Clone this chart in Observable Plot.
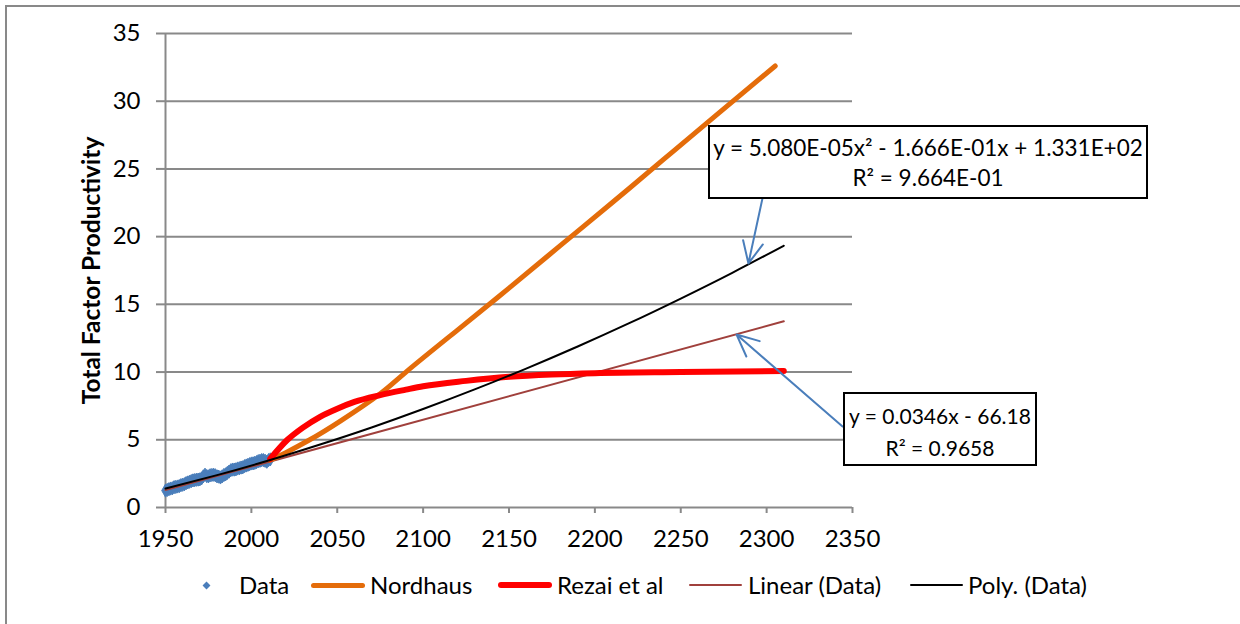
<!DOCTYPE html>
<html><head><meta charset="utf-8">
<script src="https://cdn.jsdelivr.net/npm/d3@7"></script>
<script src="https://cdn.jsdelivr.net/npm/@observablehq/plot@0.6"></script>
<style>
body{margin:0;background:#fff;font-family:Lato,sans-serif;}
#wrap{position:relative;width:1240px;height:624px;overflow:hidden;background:#fff;}
#frame{position:absolute;left:5px;top:5px;width:1300px;height:700px;border-left:2px solid #898989;border-top:2px solid #898989;}
#chart{position:absolute;left:0;top:0;}
.box{position:absolute;background:#fff;border:2px solid #000;text-align:center;font-size:22.5px;line-height:27px;box-sizing:border-box;color:#000;}
.box div{position:absolute;left:0;right:0;white-space:nowrap;}
.lt{position:absolute;font-size:24px;top:571px;line-height:28px;color:#000;white-space:nowrap;}
.sw{position:absolute;}
</style></head>
<body>
<div id="wrap">
  <div id="frame"></div>
  <div id="chart"></div>
  <div id="legend"></div>
  <div class="box" id="box1" style="left:708px;top:125px;width:440px;height:74px;">
    <div style="top:7px">y = 5.080E-05x² - 1.666E-01x + 1.331E+02</div>
    <div style="top:37px">R² = 9.664E-01</div>
  </div>
  <div class="box" id="box2" style="left:843px;top:392px;width:194px;height:74px;font-size:21px;">
    <div style="top:8px">y = 0.0346x - 66.18</div>
    <div style="top:40px">R² = 0.9658</div>
  </div>
</div>
<script>
// ---- data ----
const dataYears = [1950,1951,1952,1953,1954,1955,1956,1957,1958,1959,1960,1961,1962,1963,1964,1965,1966,1967,1968,1969,1970,1971,1972,1973,1974,1975,1976,1977,1978,1979,1980,1981,1982,1983,1984,1985,1986,1987,1988,1989,1990,1991,1992,1993,1994,1995,1996,1997,1998,1999,2000,2001,2002,2003,2004,2005,2006,2007,2008,2009,2010,2011];
const dataValues = [1.25,1.3,1.35,1.4,1.42,1.5,1.52,1.55,1.58,1.65,1.68,1.72,1.8,1.85,1.9,1.95,2.0,2.02,2.05,2.06,2.08,2.15,2.3,2.42,2.32,2.3,2.38,2.4,2.42,2.38,2.3,2.28,2.22,2.3,2.4,2.45,2.55,2.65,2.75,2.8,2.8,2.82,2.88,2.9,2.95,2.97,3.05,3.1,3.15,3.2,3.25,3.26,3.3,3.35,3.42,3.45,3.5,3.5,3.45,3.38,3.5,3.55];

const nordYears  = [2011,2020,2034,2052,2075,2090,2120,2150,2180,2210,2240,2270,2305];
const nordValues = [3.5,4.05,5.0,6.4,8.4,10.0,13.1,16.2,19.35,22.5,25.7,28.9,32.6];

const rezaiYears  = [2011,2021,2030,2040,2050,2060,2075,2090,2100,2125,2150,2175,2200,2250,2310];
const rezaiValues = [3.6,5.0,5.9,6.7,7.3,7.8,8.3,8.7,8.95,9.35,9.65,9.82,9.92,10.0,10.08];

const linYears  = [1950,2310];
const linValues = [1.29,13.75];

const polyYears  = [1950,1980,2010,2040,2070,2100,2130,2160,2190,2220,2250,2280,2310];
const polyValues = [1.40,2.39,3.47,4.65,5.91,7.27,8.72,10.26,11.89,13.61,15.43,17.33,19.33];

const xTicks = [1950,2000,2050,2100,2150,2200,2250,2300,2350];
const yTicks = [0,5,10,15,20,25,30,35];

const arrowX1 = [2298.2,2344.2];
const arrowY1 = [23.19,5.98];
const arrowX2 = [2289.4,2282.5];
const arrowY2 = [18.02,12.77];

const yTitle = "Total Factor Productivity";
const legendNames = ["Data","Nordhaus","Rezai et al","Linear (Data)","Poly. (Data)"];
const colors = {data:"#4a7ebb", nord:"#e46c0a", rezai:"#ff0000", lin:"#a0403c", poly:"#000000"};

// ---- tables ----
const data = dataYears.map((x,i)=>({x,y:dataValues[i]}));
const nord = nordYears.map((x,i)=>({x,y:nordValues[i]}));
const rezai = rezaiYears.map((x,i)=>({x,y:rezaiValues[i]}));
const lin = linYears.map((x,i)=>({x,y:linValues[i]}));
const poly = polyYears.map((x,i)=>({x,y:polyValues[i]}));
const arrows = arrowX1.map((x1,i)=>({x1,y1:arrowY1[i],x2:arrowX2[i],y2:arrowY2[i]}));

const grid = "#898989";
const chart = Plot.plot({
  width: 1240, height: 560,
  marginLeft: 165, marginRight: 388, marginTop: 33, marginBottom: 53,
  style: {fontFamily: "Lato, sans-serif", fontSize: "24px", color: "black", background: "transparent", overflow: "visible"},
  x: {domain: [1950, 2350]},
  y: {domain: [0, 35]},
  marks: [
    Plot.ruleY(yTicks, {stroke: grid, strokeWidth: 2}),
    Plot.ruleX([1950], {y1: 0, y2: 35, stroke: grid, strokeWidth: 2}),
    Plot.axisY({ticks: yTicks, tickSize: 9, tickPadding: 16, stroke: grid, strokeWidth: 2, fill: "black", label: null, tickFormat: d => String(d)}),
    Plot.axisX({ticks: xTicks, tickSize: 6, tickPadding: 16, stroke: grid, strokeWidth: 2, fill: "black", label: null, tickFormat: d => String(d)}),
    Plot.text([yTitle], {frameAnchor: "left", textAnchor: "middle", rotate: -90, dx: -73, fontWeight: "bold", fontSize: 24.5, fill: "black"}),
    Plot.dot(data, {x: "x", y: "y", symbol: "diamond", r: 4, fill: colors.data, stroke: colors.data, strokeWidth: 1}),
    Plot.line(lin, {x: "x", y: "y", stroke: colors.lin, strokeWidth: 2}),
    Plot.line(nord, {x: "x", y: "y", stroke: colors.nord, strokeWidth: 5, curve: "natural", strokeLinecap: "round"}),
    Plot.line(rezai, {x: "x", y: "y", stroke: colors.rezai, strokeWidth: 6, curve: "monotone-x", strokeLinecap: "round"}),
    Plot.line(poly, {x: "x", y: "y", stroke: colors.poly, strokeWidth: 2, curve: "natural"}),
    Plot.arrow(arrows, {x1: "x1", y1: "y1", x2: "x2", y2: "y2", stroke: colors.data, strokeWidth: 2, headLength: 18, headAngle: 50})
  ]
});
document.getElementById("chart").appendChild(chart);

// ---- legend ----
const leg = document.getElementById("legend");
const textLeft = [239,370,557,748,968];
legendNames.forEach((n,i)=>{
  const s = document.createElement("div");
  s.className = "lt"; s.style.left = textLeft[i] + "px"; s.textContent = n;
  leg.appendChild(s);
});
const sw = [
  {l:203,w:7,h:7,c:colors.data,diamond:true},
  {l:311,w:54,h:5,c:colors.nord},
  {l:498,w:54,h:6,c:colors.rezai},
  {l:689,w:53,h:2,c:colors.lin},
  {l:910,w:53,h:2,c:colors.poly}
];
sw.forEach(o=>{
  const d = document.createElement("div");
  d.className = "sw";
  d.style.left = o.l + "px"; d.style.width = o.w + "px"; d.style.height = o.h + "px";
  d.style.top = (585 - o.h/2) + "px"; d.style.background = o.c;
  if (o.diamond) { d.style.transform = "rotate(45deg) scale(0.8)"; }
  else { d.style.borderRadius = (o.h/2) + "px"; }
  leg.appendChild(d);
});
</script>
</body></html>
